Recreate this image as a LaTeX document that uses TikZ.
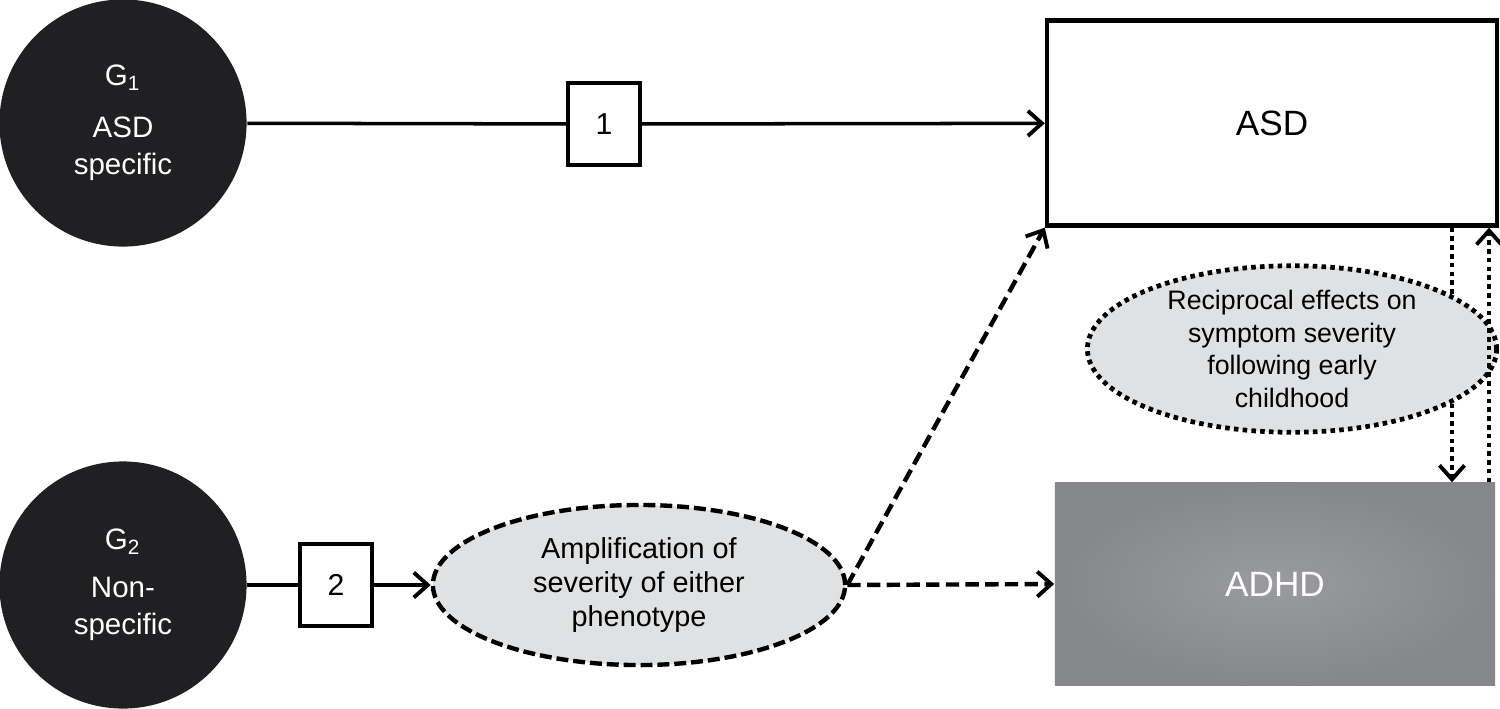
\documentclass[tikz,border=0pt]{standalone}
\usepackage{fontspec}
\setmainfont{Liberation Sans}
\usetikzlibrary{arrows.meta,shapes.geometric}
\definecolor{gdark}{RGB}{32,31,33}
\definecolor{ovalfill}{RGB}{224,225,227}
\definecolor{adhdin}{RGB}{154,155,159}
\definecolor{adhdout}{RGB}{134,135,139}
\begin{document}
\begin{tikzpicture}[x=0.01cm, y=-0.01cm, line cap=butt, line join=miter,
	tip/.style={-{Straight Barb[length=1.4mm,width=2.5mm,line width=1.1pt]}},
	gene/.style={circle, fill=gdark, minimum size=2.47cm, inner sep=0pt, text=white, align=center, font=\fontsize{8.4}{10.6}\selectfont},
	numbox/.style={draw=black, line width=0.95pt, fill=white, minimum width=0.72cm, minimum height=0.82cm, inner sep=0pt, font=\fontsize{8.6}{10}\selectfont},
	oval/.style={ellipse, fill=ovalfill, inner sep=0pt, align=center},
	solidline/.style={line width=1pt},
	dashline/.style={line width=1.25pt, dash pattern=on 3.8pt off 1.8pt},
	dotline/.style={line width=1.35pt, dash pattern=on 1.3pt off 1.2pt}]
	%Bounding box
	\useasboundingbox (0,0) rectangle (1500,708);

	%Coordinates
	\coordinate (dn) at (1452,0);
	\coordinate (up) at (1489,0);

	%Gene nodes
	\node[gene] (g1) at (123,123) {G\textsubscript{1}\\[4pt]ASD\\specific};
	\node[gene] (g2) at (123,585) {G\textsubscript{2}\\[3pt]Non-\\specific};

	%Number boxes
	\node[numbox] (b1) at (604,124) {1};
	\node[numbox] (b2) at (336,585) {2};

	%Phenotypes
	\node[draw=black, line width=1.2pt, minimum width=4.5cm, minimum height=2.05cm, font=\fontsize{10}{12}\selectfont] (asd) at (1272,123) {ASD};
	\node[shading=radial, inner color=adhdin, outer color=adhdout, minimum width=4.4cm, minimum height=2.02cm, text=white, font=\fontsize{10}{12}\selectfont] (adhd) at (1275,584) {ADHD};

	%Amplification
	\node[oval, draw=black, dashline, dash pattern=on 3.4pt off 1.4pt, minimum width=4.12cm, minimum height=1.6cm, font=\fontsize{8.2}{9.8}\selectfont] (amp) at (639,585) {Amplification of\\severity of either\\phenotype};

	%Paths
	\draw[solidline] (g1) -- (b1);
	\draw[solidline, tip] (b1) -- (asd);
	\draw[solidline] (g2) -- (b2);
	\draw[solidline, tip] (b2) -- (amp);
	\draw[dashline, tip] (amp.east) -- (asd.south west);
	\draw[dashline, tip] (amp.east) -- (adhd.west);
	\draw[dotline, tip] (asd.south -| dn) -- (adhd.north -| dn);

	%Reciprocal
	\node[oval, draw=black, dotline, minimum width=4.09cm, minimum height=1.62cm, font=\fontsize{7.6}{9.3}\selectfont] (rec) at (1292,349) {Reciprocal effects on\\symptom severity\\following early\\childhood};

	\draw[dotline, tip] (adhd.north -| up) -- (asd.south -| up);

\end{tikzpicture}
\end{document}
